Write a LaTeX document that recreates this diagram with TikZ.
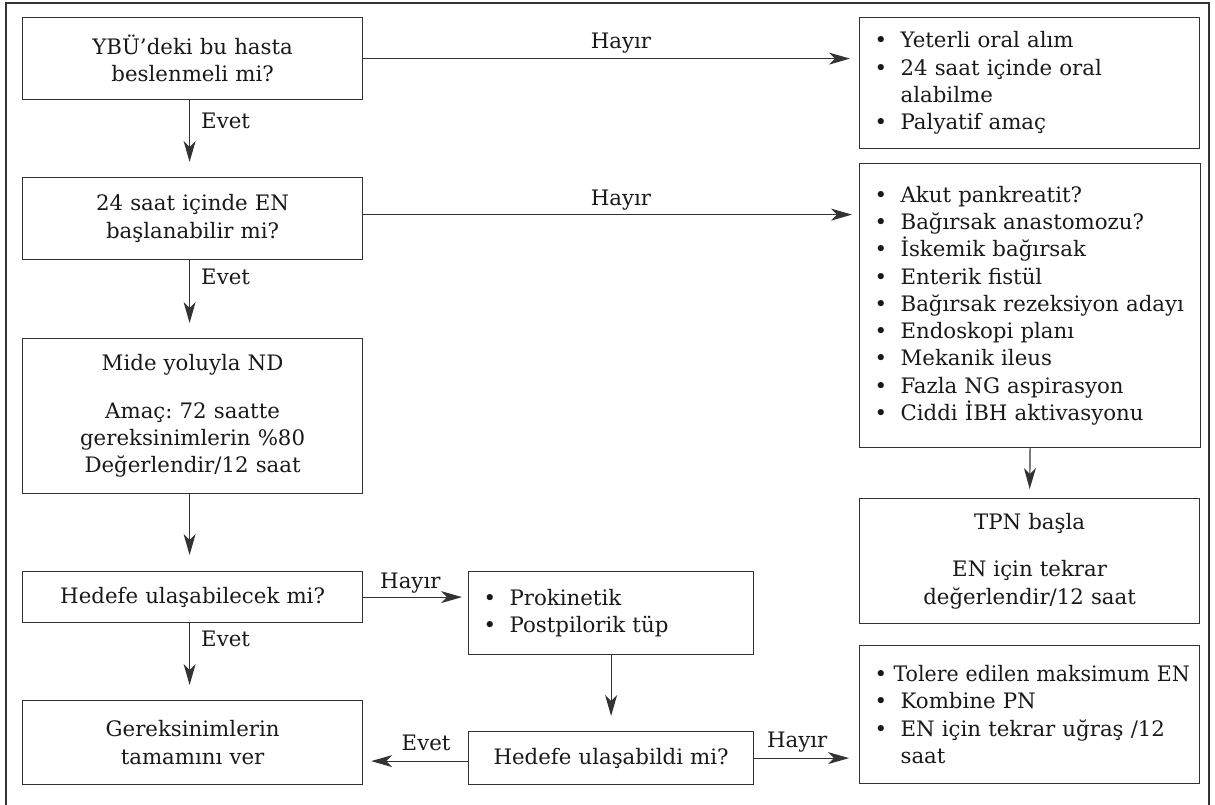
\documentclass[tikz,border=0pt]{standalone}
\usepackage{fontspec}
\usepackage{graphicx}
\setmainfont{DejaVu Serif}
\usetikzlibrary{arrows.meta}
\frenchspacing

% bullet item and continuation line for the list boxes
\newcommand{\itm}[1]{\hspace*{15pt}\makebox[26pt][l]{\textbullet}#1}
\newcommand{\cont}[1]{\hspace*{41pt}#1}

\begin{document}
\begin{tikzpicture}[x=1pt,y=-1pt,
  font=\fontsize{21.3}{27.3}\selectfont,
  box/.style 2 args={draw=black!80, line width=1.2pt, anchor=north west,
    inner xsep=0pt, inner ysep=0pt, align=center, text=black!90,
    minimum width=#1pt, minimum height=#2pt, text width=#1pt},
  listbox/.style 2 args={draw=black!80, line width=1.2pt, anchor=north west,
    inner xsep=0pt, inner ysep=0pt, align=left, text=black!90,
    minimum width=#1pt, minimum height=#2pt, text width=#1pt},
  flow/.style={draw=black!80, line width=1.2pt,
    -{Stealth[length=21pt,width=12pt,inset=6pt]}},
  lbl/.style={inner sep=0pt, text=black!90},
]
\useasboundingbox (0,0) rectangle (1215,805);

% outer frame
\draw[black!80, line width=1.2pt] (6,805) -- (6,3) -- (1209,3) -- (1209,805);

% left column
\node[box={340}{82}] (b1) at (22,17) {YBÜ’deki bu hasta\\beslenmeli mi?};
\node[box={340}{82}] (b2) at (22,177) {24 saat içinde EN\\başlanabilir mi?};
\node[box={340}{155}] (b3) at (22,338) {Mide yoluyla ND\\[20pt]Amaç: 72 saatte\\gereksinimlerin \%80\\Değerlendir/12 saat};
\node[box={340}{51}] (b4) at (22,571) {Hedefe ulaşabilecek mi?};
\node[box={340}{84}] (b5) at (22,700) {Gereksinimlerin\\tamamını ver};

% middle column
\node[listbox={285}{83}] (p) at (468,571) {\itm{Prokinetik}\\\itm{Postpilorik tüp}};
\node[box={285}{53}] (q) at (468,731) {Hedefe ulaşabildi mi?};

% right column
\node[listbox={340}{131}] (ra) at (859,17) {\itm{Yeterli oral alım}\\\itm{24 saat içinde oral}\\\cont{alabilme}\\\itm{Palyatif amaç}};
\node[listbox={341}{284}] (rb) at (859,163) {\itm{Akut pankreatit?}\\\itm{Bağırsak anastomozu?}\\\itm{İskemik bağırsak}\\\itm{Enterik fistül}\\\itm{Bağırsak rezeksiyon adayı}\\\itm{Endoskopi planı}\\\itm{Mekanik ileus}\\\itm{Fazla NG aspirasyon}\\\itm{Ciddi İBH aktivasyonu}};
\node[box={340}{125}] (rc) at (859,498) {TPN başla\\[20pt]EN için tekrar\\değerlendir/12 saat};
\node[listbox={340}{138}] (rd) at (859,645) {\hspace*{15pt}\makebox[19pt][l]{\textbullet}\scalebox{0.965}[1]{Tolere edilen maksimum EN}\\\itm{Kombine PN}\\\itm{EN için tekrar uğraş /12}\\\cont{saat}};

% connectors
\draw[flow, shorten >=15pt] ([xshift=-3pt]b1.south) -- ([xshift=-3pt]b2.north)
  node[lbl, pos=0.37, anchor=base west, xshift=11pt] {Evet};
\draw[flow, shorten >=15pt] ([xshift=-3pt]b2.south) -- ([xshift=-3pt]b3.north)
  node[lbl, pos=0.31, anchor=base west, xshift=11pt] {Evet};
\draw[flow, shorten >=16pt] ([xshift=-3pt]b3.south) -- ([xshift=-3pt]b4.north);
\draw[flow, shorten >=15pt] ([xshift=-3pt]b4.south) -- ([xshift=-3pt]b5.north)
  node[lbl, pos=0.30, anchor=base west, xshift=11pt] {Evet};

\draw[flow, shorten >=9pt] (b1.east) -- (b1.east -| ra.west)
  node[lbl, pos=0.52, anchor=base, yshift=10pt] {Hayır};
\draw[flow, shorten >=7pt] ([yshift=4pt]b2.east) -- ([yshift=4pt]b2.east -| rb.west)
  node[lbl, pos=0.52, anchor=base, yshift=9pt] {Hayır};
\draw[flow, shorten >=6pt] (b4.east) -- (b4.east -| p.west)
  node[lbl, pos=0.45, anchor=base, yshift=9pt] {Hayır};

\draw[flow, shorten >=9pt] (rb.south) -- (rc.north);
\draw[flow, shorten >=15pt] (p.south) -- (q.north);

\draw[flow, shorten >=8pt] ([yshift=-3pt]q.west) -- ([yshift=-3pt]q.west -| b5.east)
  node[lbl, pos=0.40, anchor=base, yshift=11pt] {Evet};
\draw[flow, shorten >=10pt] (q.east) -- (q.east -| rd.west)
  node[lbl, pos=0.41, anchor=base, yshift=11pt] {Hayır};
\end{tikzpicture}
\end{document}
